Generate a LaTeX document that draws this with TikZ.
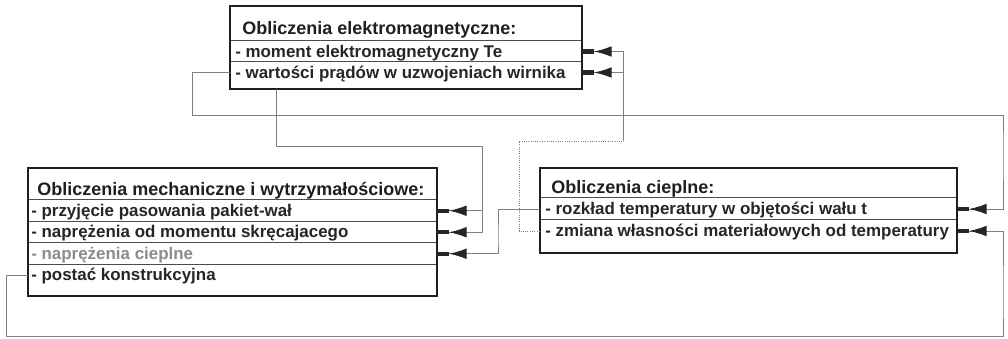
\documentclass[tikz,border=0pt]{standalone}
\usepackage{fontspec}
\setmainfont{Liberation Sans}
\usetikzlibrary{arrows.meta,fit}

\begin{document}
\begin{tikzpicture}[x=0.75pt,y=-0.75pt,
  box/.style={draw=black!88, line width=1.6pt, inner sep=0pt},
  cell/.style={inner sep=0pt},
  sepline/.style={draw=black!70, line width=0.7pt},
  ttl/.style={anchor=base west, inner sep=0pt, font=\bfseries\fontsize{13.5}{16}\selectfont, text=black!88},
  itm/.style={anchor=base west, inner sep=0pt, font=\bfseries\fontsize{12.7}{15}\selectfont, text=black!85},
  link/.style={draw=black!50, line width=0.7pt},
  feed/.style={link, -{Latex[length=13pt,width=8pt,color=black!85] Rectangle[length=9pt,width=3.2pt,color=black!85]}},
]
\useasboundingbox (0,0) rectangle (1008,339);

% ---------- electromagnetic calculations ----------
\node[cell, fit={(230,41) (582,62)}] (em1) {};
\node[cell, fit={(230,62) (582,83)}] (em2) {};
\draw[sepline] (em1.north west) -- (em1.north east);
\draw[sepline] (em2.north west) -- (em2.north east);
\node[ttl] (emt) at (242,35) {Obliczenia elektromagnetyczne:};
\node[itm] (em1t) at (235,57) {- moment elektromagnetyczny Te};
\node[itm] (em2t) at (235,78) {- wartości prądów w uzwojeniach wirnika};
\node[box, fit={(230,6) (582,89)}] (em) {};

% ---------- mechanical and strength calculations ----------
\node[cell, fit={(28,200) (437,221.5)}] (m1) {};
\node[cell, fit={(28,221.5) (437,243)}] (m2) {};
\node[cell, fit={(28,243) (437,264.5)}] (m3) {};
\node[cell, fit={(28,264.5) (437,286)}] (m4) {};
\foreach \r in {m1,m2,m3,m4}
  \draw[sepline] (\r.north west) -- (\r.north east);
\node[ttl] (mt) at (37,195) {Obliczenia mechaniczne i wytrzymałościowe:};
\node[itm] (m1t) at (31,216) {- przyjęcie pasowania pakiet-wał};
\node[itm] (m2t) at (31,237.5) {- naprężenia od momentu skręcajacego};
\node[itm, text=black!45] (m3t) at (31,259) {- naprężenia cieplne};
\node[itm] (m4t) at (31,280.5) {- postać konstrukcyjna};
\node[box, fit={(28,168) (437,296)}] (mech) {};

% ---------- thermal calculations ----------
\node[cell, fit={(540,198) (957,220)}] (c1) {};
\node[cell, fit={(540,220) (957,242)}] (c2) {};
\draw[sepline] (c1.north west) -- (c1.north east);
\draw[sepline] (c2.north west) -- (c2.north east);
\node[ttl] (ct) at (551,193) {Obliczenia cieplne:};
\node[itm] (c1t) at (545,214) {- rozkład temperatury w objętości wału t};
\node[itm] (c2t) at (545,236) {- zmiana własności materiałowych od temperatury};
\node[box, fit={(540,168) (957,253)}] (heat) {};

% ---------- junction points ----------
\coordinate (emtap) at (276,89);
\coordinate (jm) at (482,146);
\coordinate (jt) at (623,141);

% ---------- connectors ----------
% currents -> temperature distribution
\draw[feed] (em2.west) -| (192,115) -| (1003,150) |- (c1.east);
% torque -> fit and torsional stress
\draw[link] (emtap) |- (jm);
\draw[feed] (jm) |- (m1.east);
\draw[feed] (jm) |- (m2.east);
% temperature distribution -> thermal stress
\draw[feed] (c1.west) -| (498,240) |- (m3.east);
% material properties -> electromagnetic calculations
\draw[link, densely dotted] (c2.west) -| (519,141) -- (jt);
\draw[feed] (jt) |- (em1.east);
\draw[feed] (jt) |- (em2.east);
% design form -> material properties
\draw[feed] (m4.west) -| (6,336) -| (1003,300) |- (c2.east);
\end{tikzpicture}
\end{document}
